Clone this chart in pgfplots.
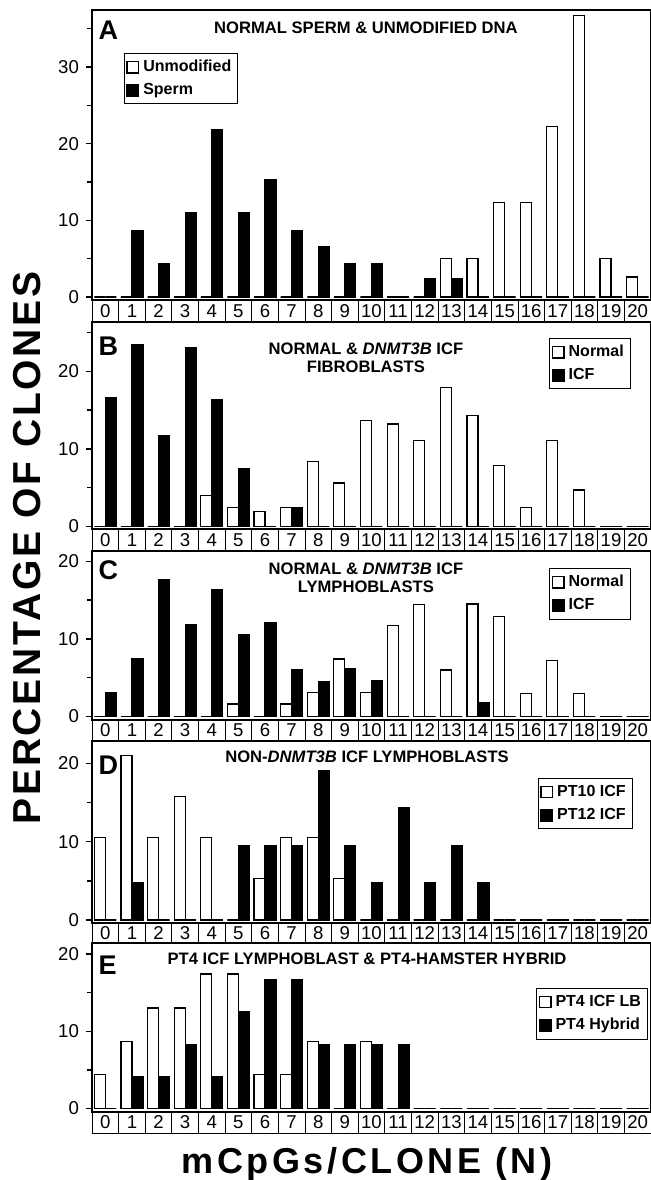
\documentclass[border=0pt]{standalone}
\usepackage{fontspec}
\setmainfont{Liberation Sans}
\usepackage{pgfplots}
\pgfplotsset{compat=1.18}
\pgfplotsset{
  sq legend/.style={legend image code/.code={\draw[##1] (0pt,-2.9pt) rectangle (5.8pt,2.9pt);}},
  wbar/.style={fill=white, draw=black, line width=0.6pt, sq legend},
  bbar/.style={fill=black, draw=black, line width=0.6pt, sq legend},
  panel/.style={
    scale only axis, width=279.5pt, xmin=-0.5, xmax=20.5,
    ybar=0pt, bar width=5.5pt,
    xtick={0,...,20},
    xticklabels={0,1,2,3,4,5,6,7,8,9,10,11,12,13,14,15,16,17,18,19,20},
    xtick style={draw=none},
    xtick align=inside, ytick align=outside,
    xticklabel style={draw=black, line width=0.4pt, inner sep=0pt, outer sep=0pt, minimum width=13.31pt, minimum height=#1, anchor=north, font=\fontsize{9.3}{10}\selectfont},
    ytick distance=10, minor y tick num=1,
    ytick pos=left,
    major tick length=3pt, minor tick length=2.4pt,
    yticklabel style={font=\fontsize{9.3}{10}\selectfont},
    /pgf/number format/assume math mode=true,
    axis line style={line width=0.8pt},
    every tick/.style={line width=0.7pt, black},
    legend cell align=left,
    legend style={draw=black, line width=0.5pt, anchor=north west, font=\bfseries\fontsize{8}{9.5}\selectfont, inner sep=1.2pt, row sep=0.5pt},
  },
}
\tikzset{
  ttl/.style={font=\bfseries\fontsize{8.3}{9}\selectfont, align=center},
  plet/.style={anchor=north west, inner sep=0pt, font=\bfseries\fontsize{13.5}{13.5}\selectfont},
}
\begin{document}
\begin{tikzpicture}
\useasboundingbox (0,0) rectangle (325.5pt,590pt);
% Panel A
\begin{axis}[panel=11pt, at={(46pt,585pt)}, anchor=north west, height=145pt,
  ymin=-0.39, ymax=37.42,
  legend style={at={(rel axis cs:0.0565,0.852)}}]
\addplot[wbar] coordinates {(0,0)(1,0)(2,0)(3,0)(4,0)(5,0)(6,0)(7,0)(8,0)(9,0)(10,0)(11,0)(12,0)(13,5.0)(14,5.0)(15,12.3)(16,12.3)(17,22.2)(18,36.7)(19,5.0)(20,2.6)};
\addplot[bbar] coordinates {(0,0)(1,8.7)(2,4.4)(3,11.0)(4,21.8)(5,11.0)(6,15.3)(7,8.7)(8,6.6)(9,4.4)(10,4.4)(11,0)(12,2.4)(13,2.4)(14,0)(15,0)(16,0)(17,0)(18,0)(19,0)(20,0)};
\legend{Unmodified,Sperm}
\node[plet] at (rel axis cs:0.011,0.965) {A};
\node[ttl] at (rel axis cs:0.49,0.938) {NORMAL SPERM \& UNMODIFIED DNA};
\end{axis}
% Panel B
\begin{axis}[panel=11pt, at={(46pt,429pt)}, anchor=north west, height=103.5pt,
  ymin=-0.32, ymax=26.35,
  legend style={at={(rel axis cs:0.8175,0.923)}}]
\addplot[wbar] coordinates {(0,0)(1,0)(2,0)(3,0)(4,4.0)(5,2.4)(6,1.9)(7,2.5)(8,8.4)(9,5.6)(10,13.7)(11,13.2)(12,11.1)(13,17.9)(14,14.3)(15,7.9)(16,2.5)(17,11.1)(18,4.7)(19,0)(20,0)};
\addplot[bbar] coordinates {(0,16.6)(1,23.4)(2,11.7)(3,23.0)(4,16.4)(5,7.5)(6,0)(7,2.5)(8,0)(9,0)(10,0)(11,0)(12,0)(13,0)(14,0)(15,0)(16,0)(17,0)(18,0)(19,0)(20,0)};
\legend{Normal,ICF}
\node[plet] at (rel axis cs:0.011,0.929) {B};
\node[ttl] at (rel axis cs:0.49,0.826) {NORMAL \& \textit{DNMT3B} ICF\\FIBROBLASTS};
\end{axis}
% Panel C
\begin{axis}[panel=10.5pt, at={(46pt,314.5pt)}, anchor=north west, height=84.5pt,
  ymin=-0.45, ymax=21.33,
  legend style={at={(rel axis cs:0.8175,0.899)}}]
\addplot[wbar] coordinates {(0,0)(1,0)(2,0)(3,0)(4,0)(5,1.6)(6,0)(7,1.6)(8,3.1)(9,7.4)(10,3.1)(11,11.7)(12,14.4)(13,6.0)(14,14.5)(15,12.9)(16,3.0)(17,7.2)(18,3.0)(19,0)(20,0)};
\addplot[bbar] coordinates {(0,3.1)(1,7.4)(2,17.7)(3,11.9)(4,16.3)(5,10.5)(6,12.1)(7,6.1)(8,4.5)(9,6.2)(10,4.6)(11,0)(12,0)(13,0)(14,1.8)(15,0)(16,0)(17,0)(18,0)(19,0)(20,0)};
\legend{Normal,ICF}
\node[plet] at (rel axis cs:0.011,0.947) {C};
\node[ttl] at (rel axis cs:0.49,0.84) {NORMAL \& \textit{DNMT3B} ICF\\LYMPHOBLASTS};
\end{axis}
% Panel D
\begin{axis}[panel=10pt, at={(46pt,219.5pt)}, anchor=north west, height=91pt,
  ymin=-0.38, ymax=22.86,
  legend style={at={(rel axis cs:0.797,0.797)}}]
\addplot[wbar] coordinates {(0,10.5)(1,21.05)(2,10.5)(3,15.8)(4,10.5)(5,0)(6,5.26)(7,10.5)(8,10.5)(9,5.26)(10,0)(11,0)(12,0)(13,0)(14,0)(15,0)(16,0)(17,0)(18,0)(19,0)(20,0)};
\addplot[bbar] coordinates {(0,0)(1,4.76)(2,0)(3,0)(4,0)(5,9.52)(6,9.52)(7,9.52)(8,19.05)(9,9.52)(10,4.76)(11,14.3)(12,4.76)(13,9.52)(14,4.76)(15,0)(16,0)(17,0)(18,0)(19,0)(20,0)};
\legend{PT10 ICF,PT12 ICF}
\node[plet] at (rel axis cs:0.011,0.918) {D};
\node[ttl] at (rel axis cs:0.492,0.912) {NON-\textit{DNMT3B} ICF LYMPHOBLASTS};
\end{axis}
% Panel E
\begin{axis}[panel=10.5pt, at={(46pt,118.5pt)}, anchor=north west, height=84.5pt,
  ymin=-0.45, ymax=21.41,
  legend style={at={(rel axis cs:0.794,0.734)}}]
\addplot[wbar] coordinates {(0,4.35)(1,8.7)(2,13.0)(3,13.0)(4,17.4)(5,17.4)(6,4.35)(7,4.35)(8,8.7)(9,0)(10,8.7)(11,0)(12,0)(13,0)(14,0)(15,0)(16,0)(17,0)(18,0)(19,0)(20,0)};
\addplot[bbar] coordinates {(0,0)(1,4.17)(2,4.17)(3,8.33)(4,4.17)(5,12.5)(6,16.7)(7,16.7)(8,8.33)(9,8.33)(10,8.33)(11,8.33)(12,0)(13,0)(14,0)(15,0)(16,0)(17,0)(18,0)(19,0)(20,0)};
\legend{PT4 ICF LB,PT4 Hybrid}
\node[plet] at (rel axis cs:0.011,0.923) {E};
\node[ttl] at (rel axis cs:0.492,0.905) {PT4 ICF LYMPHOBLAST \& PT4-HAMSTER HYBRID};
\end{axis}
\node[rotate=90, font=\bfseries\fontsize{19.5}{21}\selectfont\addfontfeatures{LetterSpace=7}] at (13.5pt,316pt) {PERCENTAGE OF CLONES};
\node[font=\bfseries\fontsize{18}{20}\selectfont\addfontfeatures{LetterSpace=10}] at (183.5pt,8pt) {mCpGs/CLONE (N)};
\end{tikzpicture}
\end{document}
